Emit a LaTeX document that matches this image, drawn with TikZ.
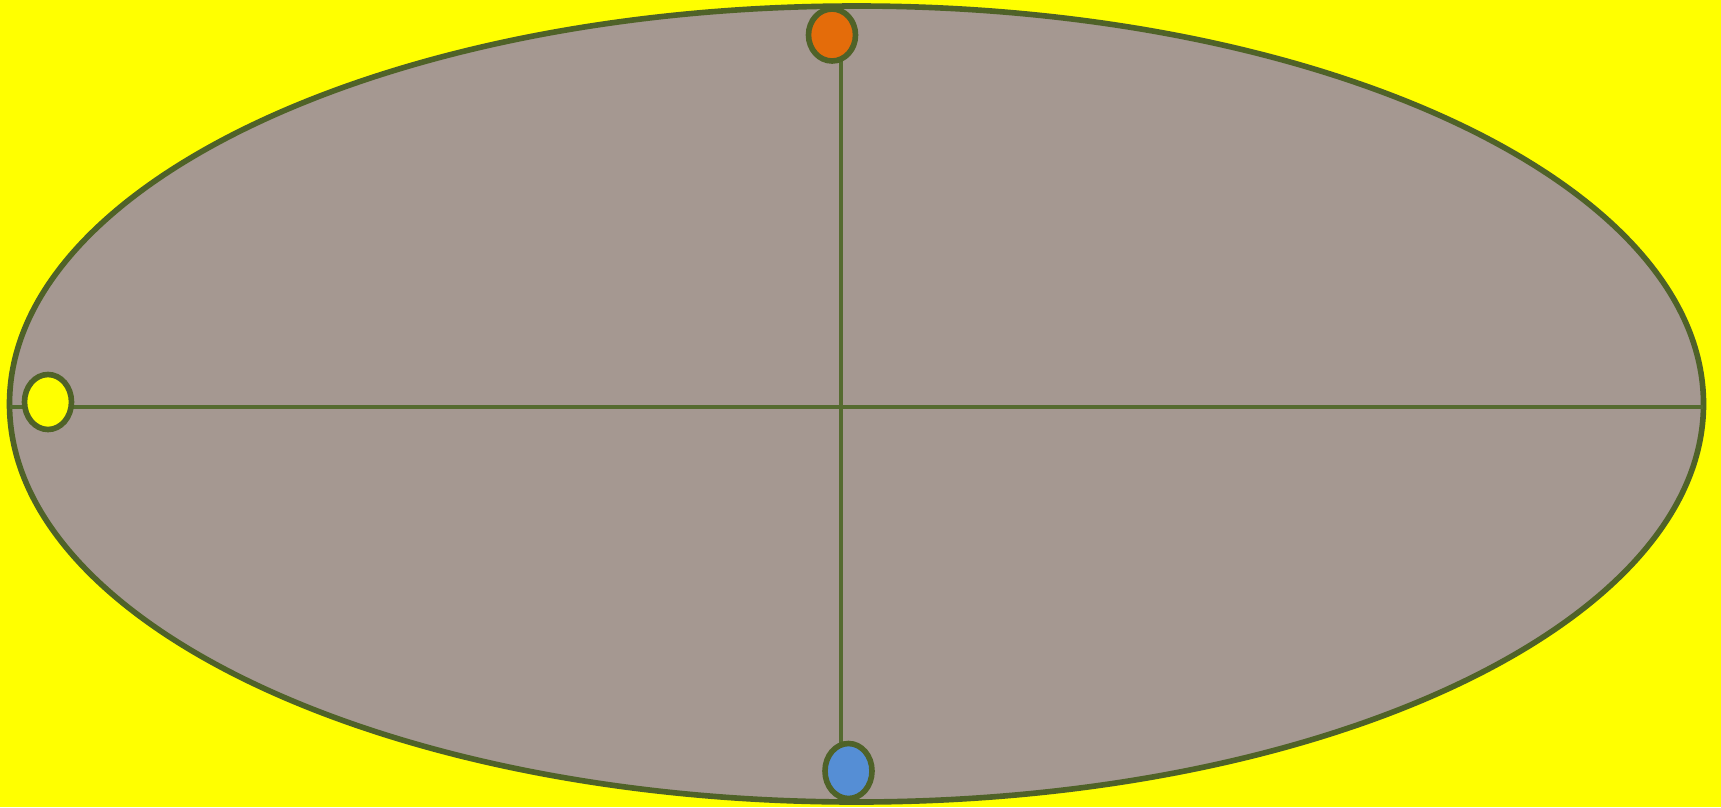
\documentclass[tikz,border=0pt]{standalone}
\usetikzlibrary{shapes.geometric}
\definecolor{bgyellow}{HTML}{FFFF00}
\definecolor{rim}{HTML}{4F6228}
\definecolor{axisgreen}{HTML}{556B30}
\definecolor{gravel}{HTML}{A59891}
\definecolor{pinorange}{HTML}{E46C0A}
\definecolor{pinblue}{HTML}{558ED5}
\tikzset{
  field/.style={ellipse,draw=rim,line width=1.6pt,fill=gravel,inner sep=0pt,minimum width=16.94cm,minimum height=7.96cm},
  axisline/.style={draw=axisgreen,line width=0.9pt},
  pin/.style={ellipse,draw=rim,line width=1.6pt,inner sep=0pt,minimum width=0.47cm,minimum height=0.52cm}
}
\begin{document}
\begin{tikzpicture}
\fill[bgyellow] (0,0) rectangle (17.21,8.07);
\useasboundingbox (0,0) rectangle (17.21,8.07);
\node[field] (F) at (8.565,4.03) {};
\coordinate (L) at (0.10,4.00); \coordinate (R) at (17.03,4.00);
\coordinate (T) at (8.41,7.70); \coordinate (B) at (8.41,0.40);
\draw[axisline] (L)--(R);
\draw[axisline] (T)--(B);
\node[pin,fill=pinorange] (N) at (8.32,7.72) {};
\node[pin,fill=pinblue,minimum height=0.55cm] (S) at (8.485,0.36) {};
\node[pin,fill=bgyellow,minimum height=0.55cm] (W) at (0.48,4.05) {};
\end{tikzpicture}
\end{document}
